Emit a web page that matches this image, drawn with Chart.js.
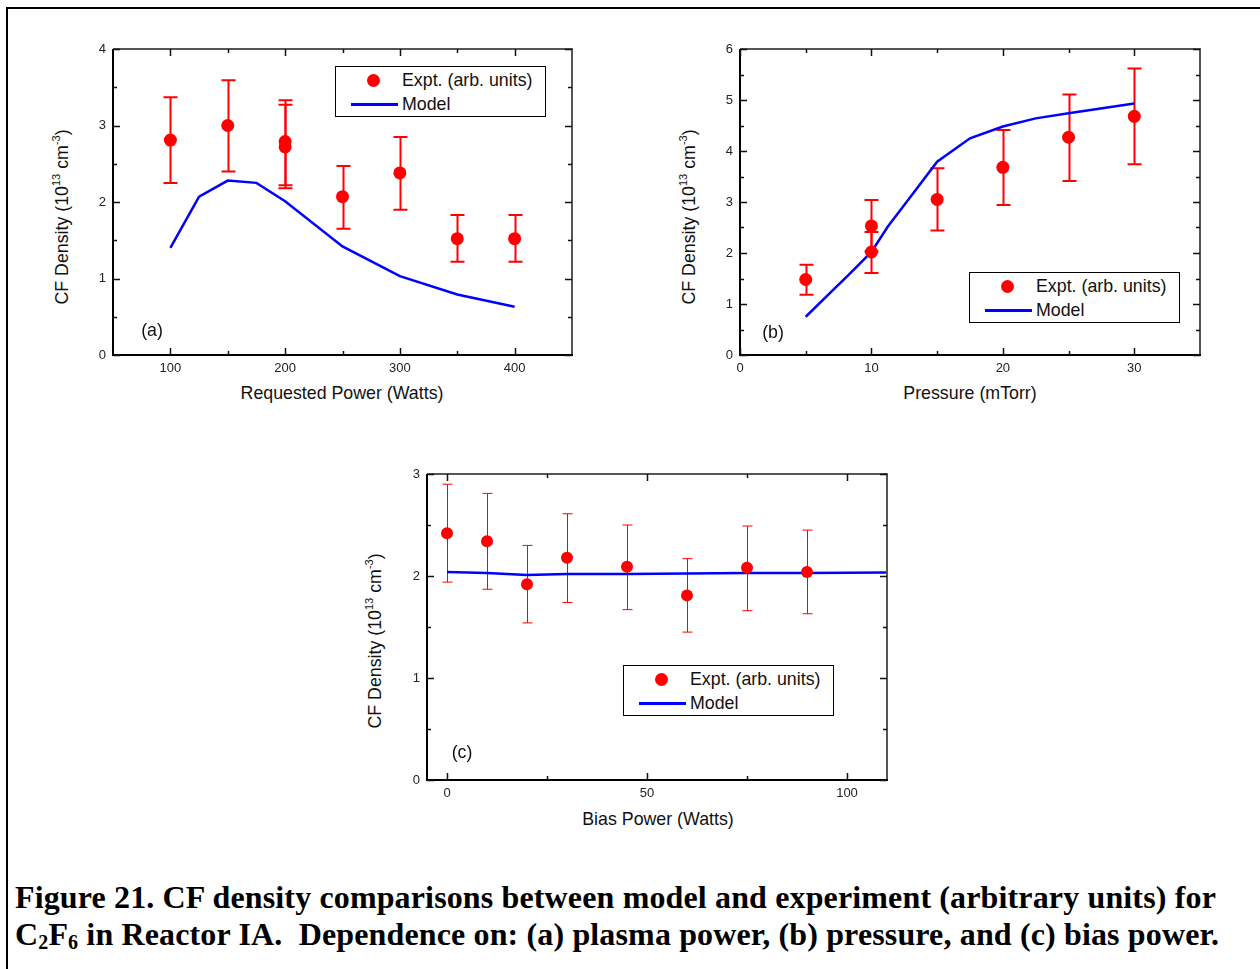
<!DOCTYPE html>
<html>
<head>
<meta charset="utf-8">
<script src="https://cdn.jsdelivr.net/npm/chart.js@4.4.1/dist/chart.umd.min.js"></script>
<style>
  body { margin: 0; width: 1260px; height: 969px; overflow: hidden; background: #fff; position: relative;
         font-family: 'Liberation Sans', Arial, sans-serif; color: #111; }
  .frame { position: absolute; left: 6px; top: 7px; width: 1300px; height: 1000px; border: 2px solid #000; }
  canvas { position: absolute; }
  .txt { position: absolute; font-size: 17.8px; white-space: nowrap; transform: translate(-50%, -50%); }
  .ytitle { position: absolute; font-size: 17.8px; white-space: nowrap; transform: translate(-50%, -50%) rotate(-90deg); }
  .ytitle sup { font-size: 11px; vertical-align: 8px; line-height: 0; }
  .legend { position: absolute; width: 209px; height: 49px; border: 1px solid #000; background: #fff; }
  .legend .dot { position: absolute; left: 31px; top: 7px; width: 13px; height: 13px; border-radius: 50%; background: #ff0000; }
  .legend .ln { position: absolute; left: 15px; top: 36px; width: 47px; height: 3px; background: #0000ff; }
  .legend .t1 { position: absolute; left: 66px; top: 3px; font-size: 17.8px; white-space: nowrap; }
  .legend .t2 { position: absolute; left: 66px; top: 27px; font-size: 17.8px; white-space: nowrap; }
  .caption { position: absolute; left: 15px; top: 879px; font-family: 'Liberation Serif', 'Times New Roman', serif;
             font-weight: bold; font-size: 32px; line-height: 37px; white-space: nowrap; color: #000;
             letter-spacing: 0.14px; }
  .caption sub { font-size: 20px; vertical-align: -4px; line-height: 0; }
</style>
</head>
<body>
<div class="frame"></div>

<div class="ytitle" style="left:62px; top:217px">CF Density (10<sup>13</sup> cm<sup>-3</sup>)</div>
<div class="ytitle" style="left:689px; top:217px">CF Density (10<sup>13</sup> cm<sup>-3</sup>)</div>
<div class="ytitle" style="left:375px; top:641px">CF Density (10<sup>13</sup> cm<sup>-3</sup>)</div>

<div class="txt" style="left:342px; top:393px">Requested Power (Watts)</div>
<div class="txt" style="left:970px; top:393px">Pressure (mTorr)</div>
<div class="txt" style="left:658px; top:819px">Bias Power (Watts)</div>

<div class="caption">Figure 21. CF density comparisons between model and experiment (arbitrary units) for<br>C<sub>2</sub>F<sub>6</sub> in Reactor IA.&nbsp; Dependence on: (a) plasma power, (b) pressure, and (c) bias power.</div>

<script>
// (a) plasma power
const powerX = [100, 150, 200, 200, 250, 300, 350, 400];
const powerExpt = [2.81, 3.00, 2.79, 2.72, 2.07, 2.38, 1.52, 1.52];
const powerLow = [2.25, 2.40, 2.22, 2.18, 1.65, 1.90, 1.22, 1.22];
const powerHigh = [3.37, 3.59, 3.33, 3.27, 2.47, 2.85, 1.83, 1.83];
const powerModelX = [100, 125, 150, 175, 200, 250, 300, 350, 400];
const powerModel = [1.40, 2.07, 2.28, 2.25, 2.01, 1.42, 1.03, 0.79, 0.63];

// (b) pressure
const pressX = [5, 10, 10, 15, 20, 25, 30];
const pressExpt = [1.48, 2.53, 2.02, 3.05, 3.68, 4.27, 4.68];
const pressLow = [1.18, 2.03, 1.61, 2.44, 2.94, 3.41, 3.74];
const pressHigh = [1.77, 3.04, 2.41, 3.66, 4.41, 5.11, 5.62];
const pressModelX = [5, 8.3, 10, 11.25, 12.5, 15, 17.5, 20, 22.5, 25, 30];
const pressModel = [0.75, 1.58, 2.02, 2.52, 2.94, 3.79, 4.25, 4.48, 4.64, 4.74, 4.93];

// (c) bias power
const biasX = [0, 10, 20, 30, 45, 60, 75, 90];
const biasExpt = [2.42, 2.34, 1.92, 2.18, 2.09, 1.81, 2.08, 2.04];
const biasLow = [1.94, 1.87, 1.54, 1.74, 1.67, 1.45, 1.66, 1.63];
const biasHigh = [2.90, 2.81, 2.30, 2.61, 2.50, 2.17, 2.49, 2.45];
const biasModelX = [0, 10, 20, 30, 45, 60, 75, 90, 110];
const biasModel = [2.04, 2.03, 2.01, 2.02, 2.02, 2.025, 2.03, 2.03, 2.035];

// tick labels
const powerTicks = [100, 200, 300, 400], powerMinor = [150, 250, 350];
const pressTicks = [0, 10, 20, 30], pressMinor = [5, 15, 25];
const biasTicks = [0, 50, 100], biasMinor = [25, 75];
const powerYTicks = [0, 1, 2, 3, 4], powerYMinor = [0.5, 1.5, 2.5, 3.5];
const pressYTicks = [0, 1, 2, 3, 4, 5, 6], pressYMinor = [0.5, 1.5, 2.5, 3.5, 4.5, 5.5];
const biasYTicks = [0, 1, 2, 3], biasYMinor = [0.5, 1.5, 2.5];

const FONT = "'Liberation Sans', Arial, sans-serif";

const errorBars = {
  id: 'errorBars',
  beforeDatasetsDraw(chart, args, opts) {
    const ds = chart.data.datasets[0];
    const xs = chart.scales.x, ys = chart.scales.y, ctx = chart.ctx;
    ctx.save();
    ctx.strokeStyle = '#ff0000';
    ctx.lineWidth = opts.width;
    ds.data.forEach((p, i) => {
      const px = Math.round(xs.getPixelForValue(p.x)) + 0.5;
      const top = ys.getPixelForValue(ds.errHigh[i]);
      const bot = ys.getPixelForValue(ds.errLow[i]);
      const c = opts.cap / 2;
      ctx.beginPath();
      ctx.moveTo(px, top); ctx.lineTo(px, bot);
      ctx.moveTo(px - c, top); ctx.lineTo(px + c, top);
      ctx.moveTo(px - c, bot); ctx.lineTo(px + c, bot);
      ctx.stroke();
    });
    ctx.restore();
  }
};

const frameTicks = {
  id: 'frameTicks',
  afterDraw(chart, args, opts) {
    const a = chart.chartArea, xs = chart.scales.x, ys = chart.scales.y, ctx = chart.ctx;
    ctx.save();
    ctx.lineWidth = 2;
    ctx.strokeStyle = '#555';
    ctx.beginPath();
    ctx.moveTo(a.left, a.top); ctx.lineTo(a.right, a.top); ctx.lineTo(a.right, a.bottom);
    ctx.stroke();
    ctx.strokeStyle = '#000';
    ctx.beginPath();
    ctx.moveTo(a.left, a.top); ctx.lineTo(a.left, a.bottom); ctx.lineTo(a.right + 1, a.bottom);
    ctx.stroke();
    ctx.lineWidth = 1.5;
    ctx.strokeStyle = '#111';
    const xt = (vals, len) => vals.forEach(v => {
      const p = Math.round(xs.getPixelForValue(v)) + 0.5;
      ctx.beginPath();
      ctx.moveTo(p, a.bottom); ctx.lineTo(p, a.bottom - len);
      ctx.moveTo(p, a.top); ctx.lineTo(p, a.top + len);
      ctx.stroke();
    });
    const yt = (vals, len) => vals.forEach(v => {
      const p = Math.round(ys.getPixelForValue(v)) + 0.5;
      ctx.beginPath();
      ctx.moveTo(a.left, p); ctx.lineTo(a.left + len, p);
      ctx.moveTo(a.right, p); ctx.lineTo(a.right - len, p);
      ctx.stroke();
    });
    xt(opts.xMajor, 7); xt(opts.xMinor, 4);
    yt(opts.yMajor, 7); yt(opts.yMinor, 4);
    ctx.restore();
  }
};

function makePanel(L, T, R, B, p) {
  const cv = document.createElement('canvas');
  const w = R - L + 80, h = B - T + 45;
  cv.width = w; cv.height = h;
  cv.style.left = (L - 60) + 'px';
  cv.style.top = (T - 15) + 'px';
  cv.style.width = w + 'px';
  cv.style.height = h + 'px';
  document.body.appendChild(cv);

  new Chart(cv.getContext('2d'), {
    type: 'scatter',
    data: {
      datasets: [
        {
          label: 'Expt. (arb. units)',
          data: p.xs.map((x, i) => ({ x: x, y: p.ys[i] })),
          errLow: p.lo, errHigh: p.hi,
          pointRadius: p.r, pointBackgroundColor: '#ff0000', pointBorderWidth: 0,
          showLine: false
        },
        {
          label: 'Model',
          data: p.mx.map((x, i) => ({ x: x, y: p.my[i] })),
          showLine: true, borderColor: '#0000ff', borderWidth: 2.5, pointRadius: 0,
          tension: 0
        }
      ]
    },
    options: {
      responsive: false,
      animation: false,
      layout: { padding: { left: 20, right: 20, top: 15, bottom: 0 } },
      plugins: {
        legend: { display: false },
        tooltip: { enabled: false },
        errorBars: { width: p.ew, cap: p.cap },
        frameTicks: { xMajor: p.xt, xMinor: p.xm, yMajor: p.yt, yMinor: p.ym }
      },
      scales: {
        x: {
          type: 'linear', min: p.xmin, max: p.xmax,
          grid: { display: false, drawTicks: false }, border: { display: false },
          afterBuildTicks: s => { s.ticks = p.xt.map(v => ({ value: v })); },
          afterFit: s => { s.height = 30; },
          ticks: { padding: 6, autoSkip: false, maxRotation: 0, color: '#222', font: { family: FONT, size: 13 } }
        },
        y: {
          type: 'linear', min: p.ymin, max: p.ymax,
          grid: { display: false, drawTicks: false }, border: { display: false },
          afterBuildTicks: s => { s.ticks = p.yt.map(v => ({ value: v })); },
          afterFit: s => { s.width = 40; },
          ticks: { padding: 7, autoSkip: false, color: '#222', font: { family: FONT, size: 13 } }
        }
      }
    },
    plugins: [errorBars, frameTicks]
  });
}

function addLegend(left, top) {
  const d = document.createElement('div');
  d.className = 'legend';
  d.style.left = left + 'px';
  d.style.top = top + 'px';
  d.innerHTML = '<div class="dot"></div><div class="t1">Expt. (arb. units)</div><div class="ln"></div><div class="t2">Model</div>';
  document.body.appendChild(d);
}

function addLabel(text, x, y) {
  const d = document.createElement('div');
  d.className = 'txt';
  d.style.left = x + 'px';
  d.style.top = y + 'px';
  d.textContent = text;
  document.body.appendChild(d);
}

makePanel(113, 49, 572, 355, {
  xs: powerX, ys: powerExpt, lo: powerLow, hi: powerHigh, mx: powerModelX, my: powerModel,
  xmin: 50, xmax: 450, ymin: 0, ymax: 4, xt: powerTicks, xm: powerMinor, yt: powerYTicks, ym: powerYMinor,
  r: 6.5, ew: 2, cap: 14
});
makePanel(740, 49, 1200, 355, {
  xs: pressX, ys: pressExpt, lo: pressLow, hi: pressHigh, mx: pressModelX, my: pressModel,
  xmin: 0, xmax: 35, ymin: 0, ymax: 6, xt: pressTicks, xm: pressMinor, yt: pressYTicks, ym: pressYMinor,
  r: 6.5, ew: 2, cap: 14
});
makePanel(427, 474, 887, 780, {
  xs: biasX, ys: biasExpt, lo: biasLow, hi: biasHigh, mx: biasModelX, my: biasModel,
  xmin: -5, xmax: 110, ymin: 0, ymax: 3, xt: biasTicks, xm: biasMinor, yt: biasYTicks, ym: biasYMinor,
  r: 6, ew: 1, cap: 10
});

addLegend(335, 66);
addLegend(969, 272);
addLegend(623, 665);

addLabel('(a)', 152, 330);
addLabel('(b)', 773, 332);
addLabel('(c)', 462, 752);
</script>
</body>
</html>
